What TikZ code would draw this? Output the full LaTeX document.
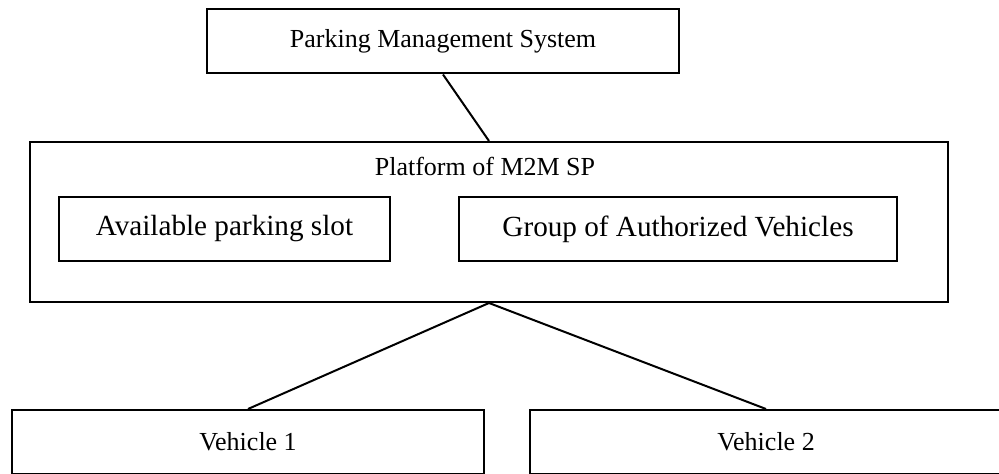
\documentclass[tikz,border=0pt]{standalone}
\usepackage{fontspec}
\setmainfont{Liberation Serif}
\usepackage{tikz}

\begin{document}
\begin{tikzpicture}[x=0.5pt, y=-0.5pt, line width=1pt,
    font=\fontsize{13}{15}\selectfont,
    blk/.style={draw, minimum width=#1*0.5pt, minimum height=32pt, inner sep=0pt},
    inblk/.style={blk=#1, font=\fontsize{14.6}{17}\selectfont}]
  \clip (0,0) rectangle (999,474);
  \node[blk=472] (pms) at (443,41.5) {Parking Management System};
  \node[draw, minimum width=459pt, minimum height=80pt] (m2m) at (489,222) {};
  \node (m2mlbl) at (485,166) {Platform of M2M SP};
  \node[inblk=331] (slot) at (224.5,229) {Available parking slot};
  \node[inblk=438] (group) at (678,229) {Group of Authorized Vehicles};
  \node[blk=472] (veh1) at (248,442) {Vehicle 1};
  \node[blk=472] (veh2) at (766,442) {Vehicle 2};
  \draw (pms.south) -- (m2m.north);
  \draw (m2m.south) -- (veh1.north);
  \draw (m2m.south) -- (veh2.north);
\end{tikzpicture}
\end{document}
